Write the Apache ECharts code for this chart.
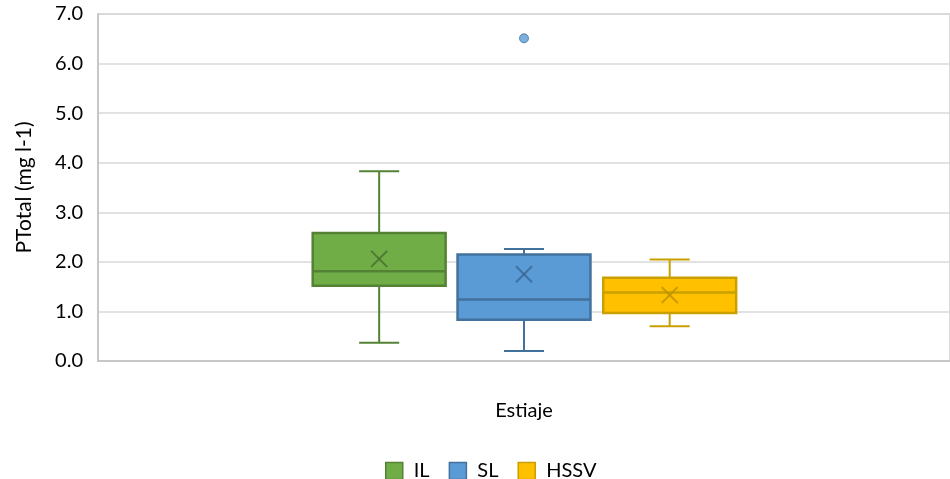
<!DOCTYPE html>
<html><head><meta charset="utf-8">
<script src="https://cdn.jsdelivr.net/npm/echarts@6/dist/echarts.min.js"></script>
<style>html,body{margin:0;padding:0;background:#fff}#c{width:950px;height:479px}</style>
</head><body><div id="c"></div>
<script>
// ---- data ----
const categories = ['Estiaje'];
const seriesNames = ['IL', 'SL', 'HSSV'];
// [min, Q1, median, Q3, max]
const ilStats = [0.37, 1.52, 1.81, 2.58, 3.83];
const slStats = [0.20, 0.83, 1.24, 2.15, 2.26];
const hssvStats = [0.70, 0.97, 1.38, 1.68, 2.05];
const means = [2.06, 1.75, 1.33];
const slOutliers = [6.51];
const yTicks = [0, 1, 2, 3, 4, 5, 6, 7];

// ---- styles ----
const fills = ['#70ad47', '#5b9bd5', '#ffc000'];
const strokes = ['#548235', '#41719c', '#c9a000'];
const meanColors = ['rgba(70,110,45,0.8)', 'rgba(55,100,145,0.8)', 'rgba(190,145,0,0.8)'];
const offsets = [-0.170, 0, 0.171];   // fraction of band width
const boxFrac = 0.156;
const capFrac = 0.047;
const FONT = 'Lato, "Open Sans", sans-serif';

const statsList = [ilStats, slStats, hssvStats];

function makeSeries(idx) {
  return {
    type: 'custom',
    name: seriesNames[idx],
    itemStyle: { color: fills[idx], borderColor: strokes[idx], borderWidth: 1.5 },
    encode: { x: 0, y: [1, 2, 3, 4, 5, 6] },
    data: [[0].concat(statsList[idx]).concat([means[idx]])],
    renderItem: function (params, api) {
      const band = api.size([1, 0])[0];
      const c = api.coord([api.value(0), 0]);
      const cx = c[0] + offsets[idx] * band;
      const bw = boxFrac * band, cw = capFrac * band;
      const y = k => api.coord([api.value(0), api.value(k)])[1];
      const yMin = y(1), yQ1 = y(2), yMed = y(3), yQ3 = y(4), yMax = y(5), yMean = y(6);
      const ls = { stroke: strokes[idx], lineWidth: 2 };
      const m = 8;
      return {
        type: 'group',
        children: [
          { type: 'line', shape: { x1: cx, y1: yMax, x2: cx, y2: yQ3 }, style: ls },
          { type: 'line', shape: { x1: cx, y1: yQ1, x2: cx, y2: yMin }, style: ls },
          { type: 'line', shape: { x1: cx - cw / 2, y1: yMax, x2: cx + cw / 2, y2: yMax }, style: ls },
          { type: 'line', shape: { x1: cx - cw / 2, y1: yMin, x2: cx + cw / 2, y2: yMin }, style: ls },
          { type: 'rect', shape: { x: cx - bw / 2, y: yQ3, width: bw, height: yQ1 - yQ3 },
            style: { fill: fills[idx], stroke: strokes[idx], lineWidth: 2.5 } },
          { type: 'line', shape: { x1: cx - bw / 2, y1: yMed, x2: cx + bw / 2, y2: yMed }, style: { stroke: strokes[idx], lineWidth: 2.5 } },
          { type: 'line', shape: { x1: cx - m, y1: yMean - m, x2: cx + m, y2: yMean + m }, style: { stroke: meanColors[idx], lineWidth: 2 } },
          { type: 'line', shape: { x1: cx - m, y1: yMean + m, x2: cx + m, y2: yMean - m }, style: { stroke: meanColors[idx], lineWidth: 2 } }
        ]
      };
    },
    z: 3
  };
}

const chart = echarts.init(document.getElementById('c'), null, { renderer: 'canvas' });
chart.setOption({
  animation: false,
  textStyle: { fontFamily: FONT },
  grid: { left: 98, right: 0, top: 14, bottom: 118, show: true, borderColor: '#d0d0d0', borderWidth: 1.5 },
  legend: {
    data: seriesNames.map((n, i) => ({ name: n, itemStyle: { color: fills[i], borderColor: strokes[i], borderWidth: 1.5 } })),
    top: 456, left: 380, icon: 'rect', itemWidth: 17, itemHeight: 17, itemGap: 19,
    textStyle: { fontSize: 20, color: '#000', fontFamily: FONT, padding: [0, 0, 0, 6] }
  },
  xAxis: {
    type: 'category', data: categories, boundaryGap: true,
    axisLine: { show: true, lineStyle: { color: '#c0c0c0', width: 1.5 } },
    axisTick: { show: false },
    axisLabel: { margin: 40, fontSize: 20, color: '#000', fontFamily: FONT }
  },
  yAxis: {
    type: 'value', min: 0, max: 7, interval: 1,
    name: 'PTotal (mg l-1)', nameLocation: 'middle', nameGap: 63, nameRotate: 90,
    nameTextStyle: { fontSize: 21, color: '#000', fontFamily: FONT },
    axisLine: { show: true, lineStyle: { color: '#c0c0c0', width: 1.5 } },
    axisTick: { show: false },
    axisLabel: { margin: 15, fontSize: 20, color: '#000', fontFamily: FONT, formatter: v => yTicks.indexOf(v) >= 0 ? v.toFixed(1) : '' },
    splitLine: { show: true, lineStyle: { color: '#d9d9d9', width: 1.5 } }
  },
  series: [
    makeSeries(0), makeSeries(1), makeSeries(2),
    {
      type: 'scatter', name: 'SL', z: 4,
      data: slOutliers.map(v => [0, v]),
      symbol: 'circle', symbolSize: 9,
      itemStyle: { color: fills[1], borderColor: strokes[1], borderWidth: 1 }
    }
  ]
});
</script></body></html>
